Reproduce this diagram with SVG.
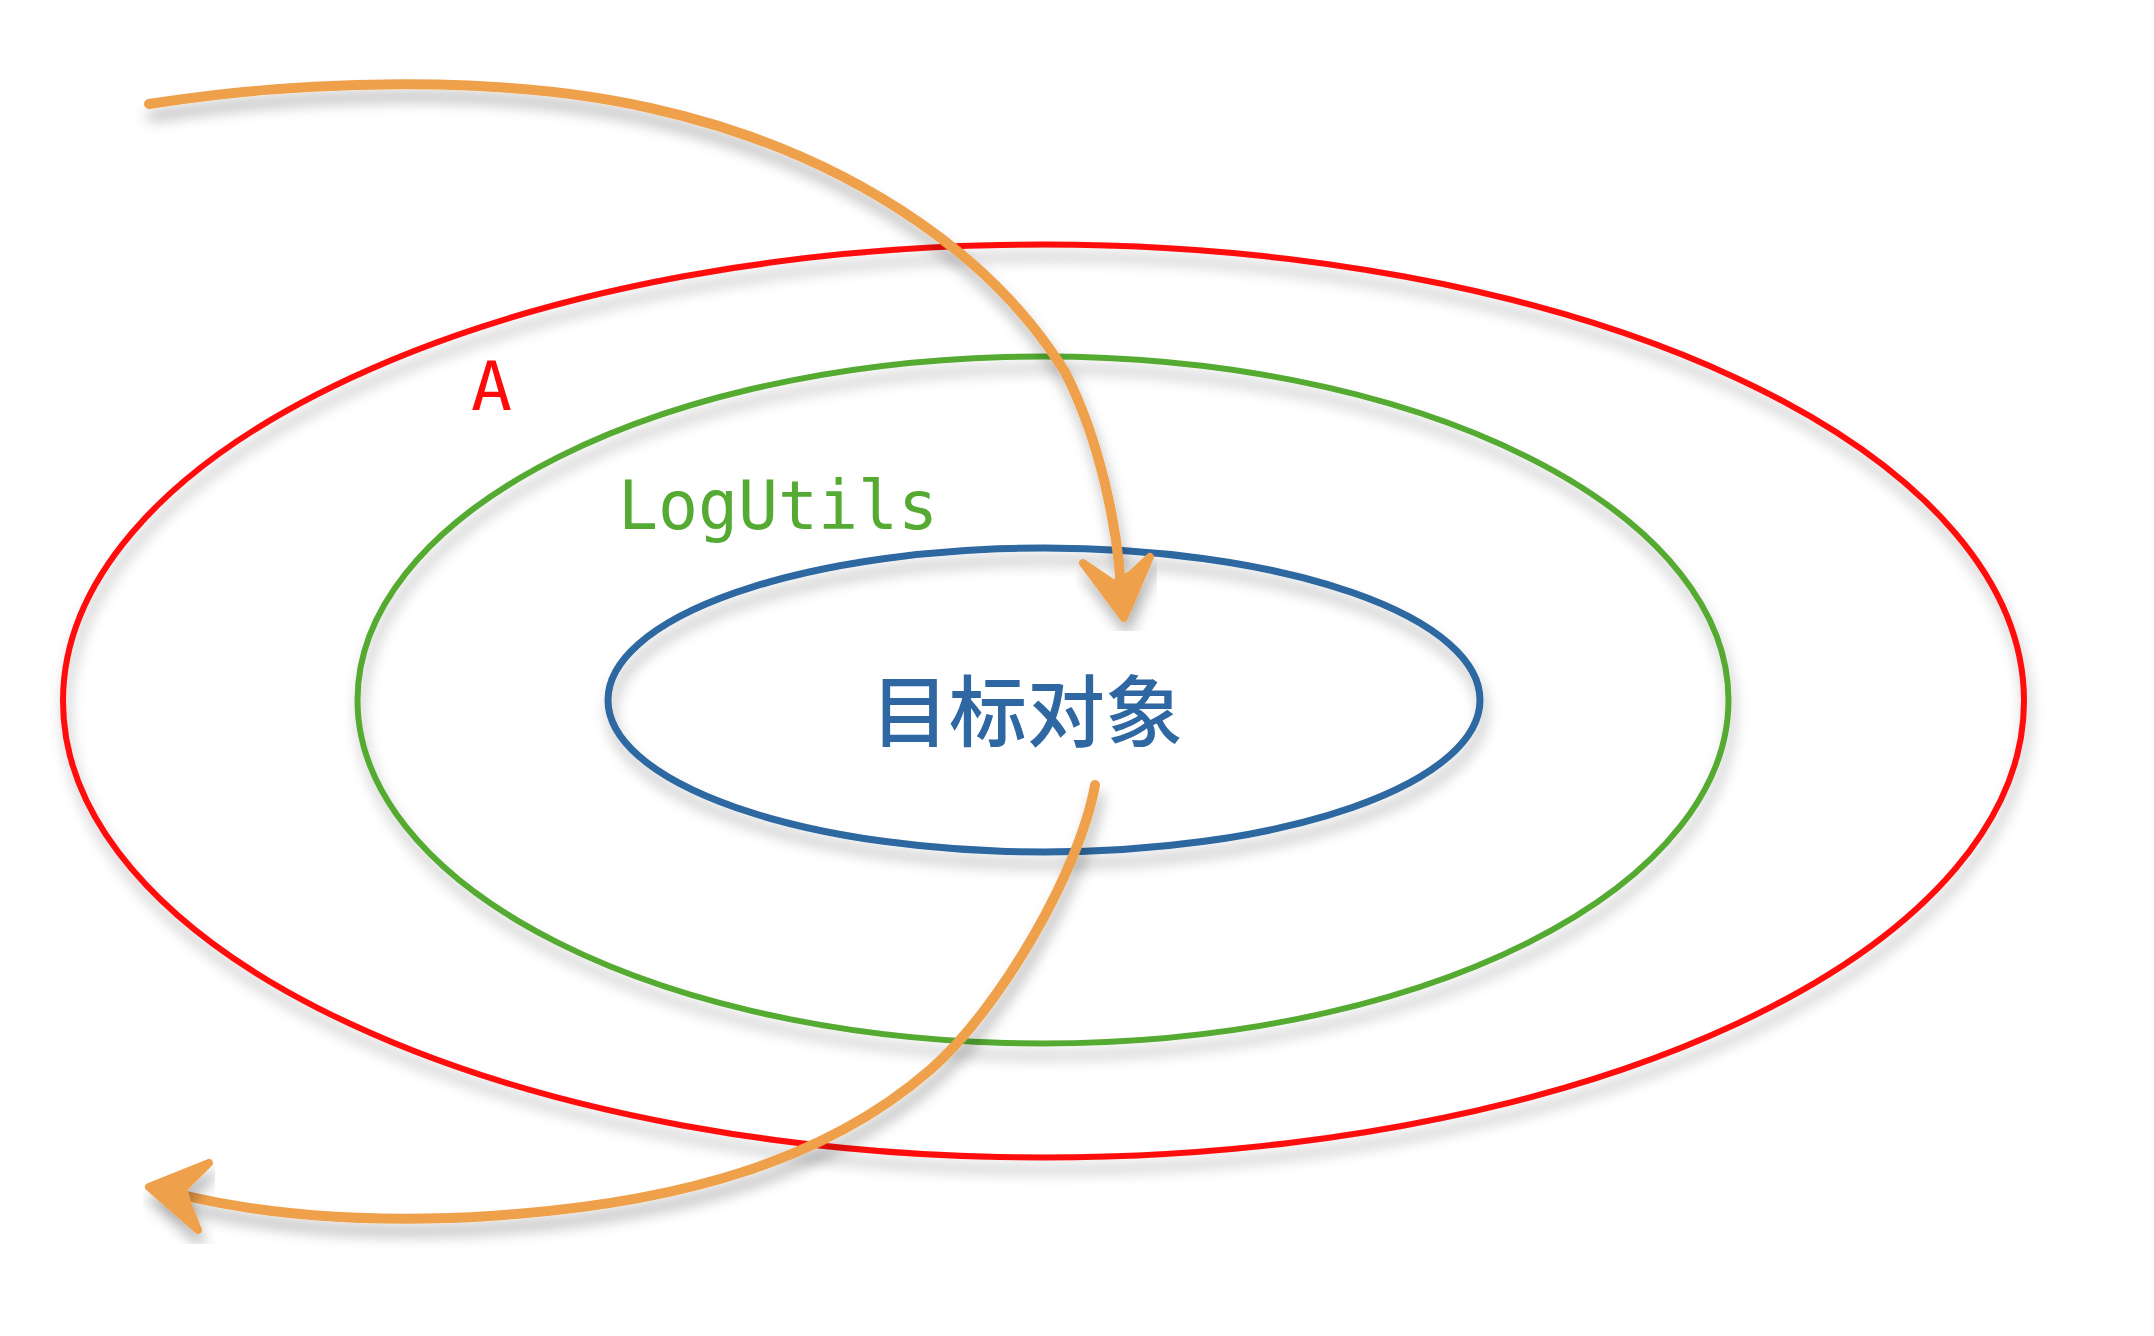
<svg xmlns="http://www.w3.org/2000/svg" width="2154" height="1336" viewBox="0 0 2154 1336">
<defs>
<filter id="sh" x="-10%" y="-10%" width="120%" height="130%">
<feDropShadow dx="3" dy="12" stdDeviation="7" flood-color="#000" flood-opacity="0.28"/>
</filter>
<style>
.ring{fill:none;filter:url(#sh)}
.red{stroke:#ff0a0a;stroke-width:6}
.green{stroke:#55aa33;stroke-width:6}
.blue{stroke:#2e67a1;stroke-width:7}
.mono{font-family:"DejaVu Sans Mono","Liberation Mono",monospace;font-size:68px}
.arrow{fill:none;stroke:#efa04b;stroke-width:10;stroke-linecap:round;stroke-linejoin:round;filter:url(#sh)}
.head{fill:#efa04b;stroke:#efa04b;stroke-width:8;stroke-linejoin:round;filter:url(#sh)}
</style>
</defs>
<rect width="2154" height="1336" fill="#ffffff"/>
<g id="node-A">
<ellipse class="ring red" cx="1043.5" cy="701" rx="980.5" ry="456.5"/>
<text class="mono" x="471" y="410" fill="#ff0a0a">A</text>
</g>
<g id="node-LogUtils">
<ellipse class="ring green" cx="1043" cy="700" rx="685.5" ry="343.5"/>
<text class="mono" x="618" y="529" fill="#55aa33" textLength="320" lengthAdjust="spacingAndGlyphs">LogUtils</text>
</g>
<g id="node-target">
<ellipse class="ring blue" cx="1044" cy="700" rx="436" ry="152"/>
<text x="1027" y="741" text-anchor="middle" fill="#2e67a1" font-family="'Noto Sans CJK SC','Noto Sans CJK JP',sans-serif" font-size="78" font-weight="500">目标对象</text>
</g>
<g id="connectors">
<path class="arrow" d="M149,104 C300,80 500,74 650,108 C840,150 990,250 1065,372 C1100,440 1118,530 1121,590"/>
<path class="head" d="M1083,563 L1114,584 L1132,574 L1150,557 L1124,618 Z"/>
<path class="arrow" d="M1095,785 C1080,870 1000,1009 930,1070 C815,1170 650,1210 450,1218 C330,1222 240,1210 170,1192"/>
<path class="head" d="M149,1187 L209,1163 L183,1189 L187,1203 L198,1230 Z"/>
</g>
</svg>
